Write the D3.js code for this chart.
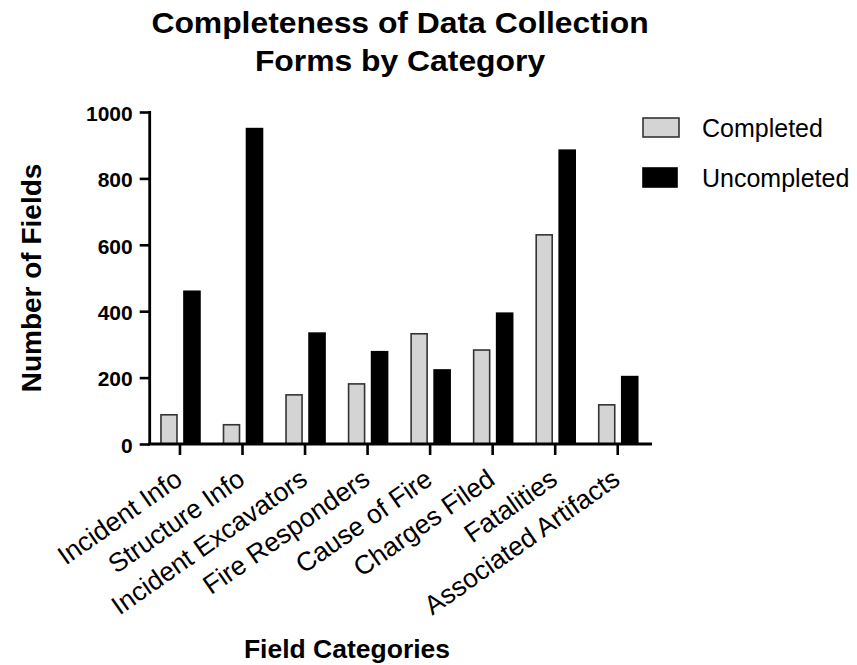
<!DOCTYPE html>
<html>
<head>
<meta charset="utf-8">
<script src="https://cdn.jsdelivr.net/npm/d3@7"></script>
<style>
  html, body { margin: 0; padding: 0; background: #fff; }
  svg { display: block; font-family: "Liberation Sans", Arial, Helvetica, sans-serif; }
</style>
</head>
<body>
<svg id="chart" width="857" height="665"></svg>
<script>
// Field categories on the x axis
const categories = [
  "Incident Info", "Structure Info", "Incident Excavators", "Fire Responders",
  "Cause of Fire", "Charges Filed", "Fatalities", "Associated Artifacts"
];
// Number of fields per category
const completed   = [88, 58, 148, 181, 332, 283, 630, 118];
const uncompleted = [460, 950, 334, 278, 223, 394, 885, 203];
const seriesNames = ["Completed", "Uncompleted"];
const yTicks = [0, 200, 400, 600, 800, 1000];
const titleLines = ["Completeness of Data Collection", "Forms by Category"];

const fills   = { Completed: "#d4d4d4", Uncompleted: "#000000" };
const strokes = { Completed: "#333333", Uncompleted: "#000000" };

const svg = d3.select("#chart");

const x = d3.scaleBand().domain(categories).range([148.7, 649]);
const x1 = d3.scaleBand().domain(seriesNames).range([-19, 20]).paddingInner(0.304);
const y = d3.scaleLinear().domain([0, 1000]).range([444, 112]);

const rows = categories.map((c, i) => ({
  category: c,
  values: [
    { key: "Completed", value: completed[i] },
    { key: "Uncompleted", value: uncompleted[i] }
  ]
}));

// Title (two centred lines)
svg.append("g")
  .attr("transform", "translate(400,0) scale(1.08,1)")
  .selectAll("text").data(titleLines).join("text")
  .attr("x", 0).attr("y", (d, i) => i === 0 ? 33.5 : 70.7)
  .attr("text-anchor", "middle")
  .style("font-size", "29.5px").style("font-weight", "bold")
  .text(d => d);

// Bars
const groups = svg.append("g").selectAll("g").data(rows).join("g")
  .attr("transform", d => `translate(${x(d.category) + x.bandwidth() / 2},0)`);

groups.selectAll("rect").data(d => d.values).join("rect")
  .attr("x", d => x1(d.key))
  .attr("width", x1.bandwidth())
  .attr("y", d => y(d.value))
  .attr("height", d => y(0) - y(d.value))
  .attr("fill", d => fills[d.key])
  .attr("stroke", d => strokes[d.key])
  .attr("stroke-width", 1.6);

// Y axis
const yAxis = svg.append("g")
  .attr("transform", `translate(${x.range()[0] + 1},0)`)
  .call(d3.axisLeft(y).tickValues(yTicks).tickSize(10).tickSizeOuter(0).tickFormat(d3.format("d")));
yAxis.select(".domain").attr("stroke", "#000").attr("stroke-width", 2.8)
  .attr("d", `M0,${y(1000) - 1}V${y(0) + 1}`);
yAxis.selectAll(".tick line").attr("stroke", "#000").attr("stroke-width", 2.6);
yAxis.selectAll(".tick text")
  .attr("x", -17).attr("dy", null).attr("y", 8.3)
  .attr("text-anchor", "end")
  .attr("fill", "#000")
  .style("font-size", "21px").style("font-weight", "bold")
  .style("font-family", "'Liberation Sans', Arial, sans-serif");

// X axis
const xAxis = svg.append("g")
  .attr("transform", `translate(0,${y(0)})`)
  .call(d3.axisBottom(x).tickSize(11).tickSizeOuter(0));
xAxis.select(".domain").attr("stroke", "#000").attr("stroke-width", 2.8)
  .attr("d", `M${x.range()[0] - 0.5},0H${x.range()[1] + 3}`);
xAxis.selectAll(".tick line").attr("stroke", "#000").attr("stroke-width", 2.6)
  .attr("y1", 1);
xAxis.selectAll(".tick text")
  .attr("y", null).attr("dy", null)
  .attr("transform", "translate(4,39) rotate(-35)")
  .attr("text-anchor", "end")
  .attr("fill", "#000")
  .style("font-size", "26.5px")
  .style("font-family", "'Liberation Sans', Arial, sans-serif");

// Axis titles
svg.append("text")
  .attr("transform", "translate(40.5,278) rotate(-90)")
  .attr("text-anchor", "middle")
  .style("font-size", "28px").style("font-weight", "bold")
  .text("Number of Fields");

svg.append("text")
  .attr("x", 347).attr("y", 658)
  .attr("text-anchor", "middle")
  .style("font-size", "26.5px").style("font-weight", "bold")
  .text("Field Categories");

// Legend
const legend = svg.append("g").selectAll("g").data(seriesNames).join("g")
  .attr("transform", (d, i) => `translate(643,${118 + i * 50})`);
legend.append("rect")
  .attr("width", (d, i) => i === 0 ? 36 : 34).attr("height", 19)
  .attr("fill", d => fills[d])
  .attr("stroke", d => strokes[d])
  .attr("stroke-width", 1.6);
legend.append("text")
  .attr("x", 59).attr("y", 19)
  .style("font-size", "25px")
  .text(d => d);
</script>
</body>
</html>
